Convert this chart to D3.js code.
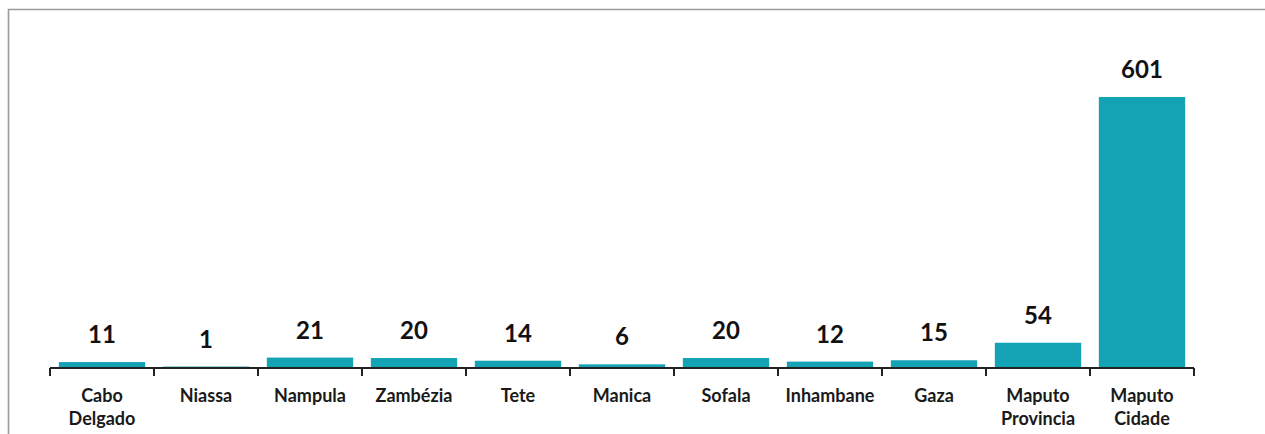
<!DOCTYPE html>
<html>
<head>
<meta charset="utf-8">
<script src="https://cdn.jsdelivr.net/npm/d3@7/dist/d3.min.js"></script>
<style>
html,body{margin:0;padding:0;background:#fff;}
svg{display:block;}
</style>
</head>
<body>
<svg id="chart" width="1265" height="434"></svg>
<script>
const categories = ["Cabo Delgado","Niassa","Nampula","Zambézia","Tete","Manica","Sofala","Inhambane","Gaza","Maputo Provincia","Maputo Cidade"];
const categoryLines = [["Cabo","Delgado"],["Niassa"],["Nampula"],["Zambézia"],["Tete"],["Manica"],["Sofala"],["Inhambane"],["Gaza"],["Maputo","Provincia"],["Maputo","Cidade"]];
const values = [11,1,21,20,14,6,20,12,15,54,601];

const svg = d3.select("#chart");
const W = 1265, H = 434;
const axisY = 368;

// frame (top and left edges visible)
svg.append("path")
  .attr("d", `M8.5,${H} L8.5,9.5 L${W},9.5`)
  .attr("fill","none").attr("stroke","#9a9a9a").attr("stroke-width",1.6);

const x = d3.scaleBand().domain(categories).range([50,1194]).paddingInner(0.17).paddingOuter(0.085);
const y = d3.scaleLinear().domain([0,700]).range([axisY-1, axisY-1-314.5]);

const font = "Lato, 'Open Sans', sans-serif";

svg.append("g").selectAll("rect").data(values).join("rect")
  .attr("x",(d,i)=>x(categories[i]))
  .attr("width",x.bandwidth())
  .attr("y",d=>y(d))
  .attr("height",d=>y(0)-y(d))
  .attr("fill","#13a3b5");

// value labels
svg.append("g").selectAll("text").data(values).join("text")
  .attr("x",(d,i)=>x(categories[i])+x.bandwidth()/2)
  .attr("y",d=>y(d)-19)
  .attr("text-anchor","middle")
  .attr("font-family",font).attr("font-weight","bold").attr("font-size",24)
  .attr("fill","#111")
  .text(d=>d);

// axis line with ticks between bands
const edges = d3.range(categories.length+1).map(i=>50 + i*(1144/categories.length));
const ax = svg.append("g");
ax.append("line").attr("x1",edges[0]).attr("x2",edges[edges.length-1])
  .attr("y1",axisY).attr("y2",axisY).attr("stroke","#222").attr("stroke-width",2);
ax.selectAll("line.tick").data(edges).join("line").attr("class","tick")
  .attr("x1",d=>d).attr("x2",d=>d).attr("y1",axisY).attr("y2",axisY+8)
  .attr("stroke","#222").attr("stroke-width",2);

// category labels
const lab = svg.append("g").selectAll("text").data(categoryLines).join("text")
  .attr("x",(d,i)=>x(categories[i])+x.bandwidth()/2)
  .attr("y",402)
  .attr("text-anchor","middle")
  .attr("font-family",font).attr("font-weight","bold").attr("font-size",18)
  .attr("fill","#1a1a1a");
lab.selectAll("tspan").data(d=>d).join("tspan")
  .attr("x",function(){return this.parentNode.getAttribute("x");})
  .attr("dy",(d,i)=>i===0?0:23)
  .text(d=>d);
</script>
</body>
</html>
